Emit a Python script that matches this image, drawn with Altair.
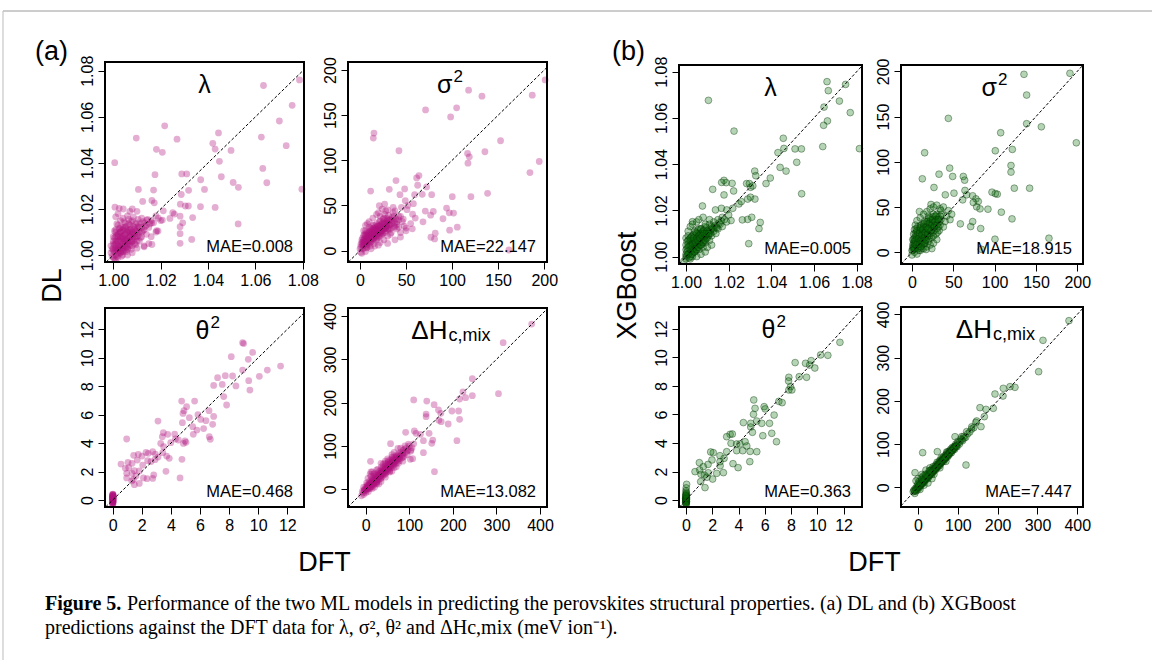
import altair as alt
import pandas as pd

W, H = 1152, 660
FONT = "Liberation Sans"
SERIF = "Liberation Serif"

# ---------------- data: (DFT, predicted) ----------------
DL_LAMBDA = [
    (1.0634, 1.0736), (1.0786, 1.0760), (1.0755, 1.0650), (1.0701, 1.0582), (1.0625, 1.0512),
    (1.0730, 1.0475), (1.0631, 1.0376), (1.0648, 1.0314), (1.0796, 1.0286), (1.0217, 1.0561),
    (1.0097, 1.0508), (1.0269, 1.0503), (1.0444, 1.0530), (1.0420, 1.0485), (1.0430, 1.0460),
    (1.0497, 1.0454), (1.0182, 1.0459), (1.0207, 1.0446), (1.0006, 1.0401), (1.0448, 1.0407),
    (1.0456, 1.0340), (1.0176, 1.0349), (1.0289, 1.0352), (1.0310, 1.0352), (1.0369, 1.0327),
    (1.0506, 1.0315), (1.0528, 1.0294), (1.0106, 1.0285), (1.0170, 1.0282), (1.0318, 1.0281),
    (1.0385, 1.0285), (1.0287, 1.0263), (1.0124, 1.0233), (1.0163, 1.0237), (1.0173, 1.0227),
    (1.0283, 1.0221), (1.0304, 1.0213), (1.0317, 1.0213), (1.0368, 1.0210), (1.0430, 1.0207),
    (1.0007, 1.0208), (1.0025, 1.0203), (1.0042, 1.0200), (1.0010, 1.0166), (1.0211, 1.0192),
    (1.0251, 1.0184), (1.0282, 1.0169), (1.0335, 1.0163), (1.0258, 1.0178), (1.0527, 1.0135),
    (1.0282, 1.0123), (1.0293, 1.0140), (1.0189, 1.0104), (1.0282, 1.0093), (1.0331, 1.0068),
    (1.0282, 1.0051), (1.0130, 1.0036), (1.0163, 1.0046), (1.0141, 1.0152), (1.0162, 1.0140),
    (1.0183, 1.0106), (1.0207, 1.0152), (1.0239, 1.0159),
    (1.000, 0.999), (1.000, 1.002), (1.000, 1.005), (1.000, 1.008), (1.001, 1.000),
    (1.001, 1.003), (1.001, 1.006), (1.001, 1.011), (1.002, 0.999), (1.002, 1.002),
    (1.002, 1.004), (1.002, 1.008), (1.002, 1.013), (1.003, 1.001), (1.003, 1.003),
    (1.003, 1.006), (1.003, 1.010), (1.003, 1.015), (1.004, 1.000), (1.004, 1.004),
    (1.004, 1.007), (1.004, 1.012), (1.005, 1.002), (1.005, 1.005), (1.005, 1.009),
    (1.005, 1.014), (1.006, 1.003), (1.006, 1.006), (1.006, 1.011), (1.006, 1.017),
    (1.007, 1.004), (1.007, 1.008), (1.007, 1.013), (1.008, 1.006), (1.008, 1.010),
    (1.008, 1.015), (1.009, 1.005), (1.009, 1.009), (1.009, 1.012), (1.010, 1.008),
    (1.010, 1.011), (1.010, 1.014), (1.011, 1.006), (1.011, 1.010), (1.012, 1.012),
    (1.012, 1.008), (1.013, 1.011), (1.013, 1.014), (1.014, 1.009), (1.014, 1.013),
    (1.015, 1.012), (1.016, 1.015), (1.004, 1.016), (1.002, 1.018), (1.007, 1.019),
    (1.008, 1.020), (1.010, 1.019), (1.012, 1.016), (1.017, 1.014), (1.018, 1.017),
    (1.019, 1.016), (1.020, 1.015), (1.018, 1.010), (1.016, 1.008), (1.015, 1.005),
    (1.013, 1.004), (1.010, 1.003), (1.008, 1.001), (1.006, 1.000), (0.999, 1.001),
    (0.999, 1.004), (1.001, 0.998), (1.003, 1.008), (1.005, 1.007), (1.007, 1.010),
]
DL_LAMBDA_CORE = [
    (1.0005, 1.0015), (1.0015, 1.0025), (1.0025, 1.0035), (1.0035, 1.0045), (1.0045, 1.0055),
    (1.0055, 1.0065), (1.0065, 1.0075), (1.0075, 1.0085), (1.0085, 1.0095), (1.0095, 1.0105),
    (1.0005, 1.0045), (1.0015, 1.0055), (1.0025, 1.0065), (1.0035, 1.0075), (1.0045, 1.0085),
    (1.0055, 1.0095), (1.0065, 1.0105), (1.0075, 1.0115), (1.0085, 1.0125), (1.0095, 1.0135),
    (1.0015, 0.9995), (1.0025, 1.0005), (1.0035, 1.0015), (1.0045, 1.0025), (1.0055, 1.0035),
    (1.0065, 1.0045), (1.0075, 1.0055), (1.0085, 1.0065), (1.0095, 1.0075), (1.0105, 1.0085),
    (1.0005, 1.0075), (1.0015, 1.0085), (1.0025, 1.0095), (1.0035, 1.0105), (1.0045, 1.0115),
    (1.0055, 1.0125), (1.0065, 1.0135), (1.0075, 1.0145), (1.0105, 1.0125), (1.0115, 1.0135),
    (1.0125, 1.0105), (1.0135, 1.0125), (1.0025, 1.0115), (1.0005, 1.0105), (1.0015, 1.0135),
    (1.0045, 1.0145), (1.0065, 1.0155), (1.0085, 1.0165), (1.0105, 1.0155), (1.0125, 1.0145),
    (1.0145, 1.0155), (1.0155, 1.0135), (1.0115, 1.0075), (1.0095, 1.0045), (1.0075, 1.0025),
    (1.0055, 1.0015), (1.0035, 0.9995), (1.0005, 0.9985), (0.9995, 0.9995), (0.9995, 1.0025),
    (1.0010, 1.0020), (1.0020, 1.0030), (1.0030, 1.0040), (1.0040, 1.0050), (1.0050, 1.0060),
    (1.0060, 1.0070), (1.0070, 1.0080), (1.0080, 1.0090), (1.0010, 1.0050), (1.0020, 1.0060),
    (1.0030, 1.0070), (1.0040, 1.0080), (1.0050, 1.0090), (1.0060, 1.0100), (1.0070, 1.0110),
    (1.0020, 1.0010), (1.0030, 1.0020), (1.0040, 1.0030), (1.0050, 1.0040), (1.0060, 1.0050),
    (1.0070, 1.0060), (1.0080, 1.0070), (1.0090, 1.0080), (1.0010, 1.0080), (1.0020, 1.0090),
    (1.0030, 1.0100), (1.0040, 1.0110), (1.0050, 1.0120), (1.0000, 1.0030), (1.0000, 1.0060),
    (1.0010, 1.0100), (1.0030, 1.0120), (1.0100, 1.0100), (1.0110, 1.0120), (1.0090, 1.0110),
    (1.0120, 1.0100), (1.0040, 1.0015), (1.0060, 1.0025), (1.0080, 1.0040), (1.0100, 1.0060),
]

DL_SIGMA = [
    (201.0, 189.0), (117.9, 177.7), (132.4, 171.1), (187.0, 172.2), (71.2, 155.8),
    (104.9, 158.1), (98.4, 148.1), (15.2, 130.2), (14.5, 124.7), (42.3, 110.6),
    (152.6, 121.7), (116.8, 107.6), (118.7, 103.9), (117.2, 96.8), (135.6, 109.5),
    (184.5, 86.5), (194.6, 98.7), (61.5, 80.5), (64.0, 83.1), (62.6, 72.4),
    (39.1, 77.6), (11.6, 66.0), (31.8, 67.9), (43.4, 62.0), (48.5, 68.3),
    (59.3, 62.0), (67.6, 62.3), (72.3, 70.5), (77.8, 62.0), (100.2, 59.7),
    (120.4, 59.7), (138.5, 63.5), (21.0, 49.7), (26.8, 51.6), (49.2, 55.3),
    (51.0, 45.3), (57.1, 40.4), (70.9, 43.8), (76.7, 39.3), (79.6, 43.4),
    (90.1, 35.3), (94.0, 47.1), (96.9, 41.9), (101.6, 41.6), (56.8, 24.1),
    (81.7, 19.3), (77.0, 14.8), (81.0, 13.0), (68.4, 31.9), (97.3, 22.6),
    (105.6, 26.0), (161.7, 0.7), (45, 48), (52, 50), (58, 52), (47, 35), (55, 30),
    (60, 36), (42, 26), (50, 22), (36, 48), (30, 45), (33, 18), (38, 12), (44, 15),
    (2, -3), (3, 2), (4, 6), (5, 10), (3, 14), (5, 18), (6, 22), (7, 3), (8, 8),
    (8, 13), (9, 17), (10, 21), (10, 26), (11, 5), (12, 10), (12, 15), (13, 19),
    (13, 24), (14, 28), (15, 8), (15, 12), (16, 17), (17, 21), (17, 26), (18, 30),
    (19, 14), (20, 19), (20, 23), (21, 28), (22, 33), (23, 17), (24, 22), (25, 26),
    (25, 31), (26, 36), (27, 20), (28, 25), (29, 30), (30, 34), (31, 39), (32, 23),
    (33, 28), (34, 33), (35, 37), (36, 42), (37, 27), (38, 31), (39, 35), (40, 29),
    (42, 34), (44, 38), (46, 32), (48, 27), (18, 40), (20, 42), (22, 38), (27, 40),
    (14, 36), (10, 32), (6, 28), (8, 30), (4, 22), (2, 12), (1, 7), (0, 2), (1, -2),
    (6, -1), (12, 2), (16, 5), (22, 9), (26, 12), (30, 16), (34, 20), (40, 24),
    (44, 20), (50, 25), (30, 8), (20, 6), (38, 44), (28, 44), (24, 46),
]
DL_SIGMA_CORE = [
    (1, 4), (2, 9), (3, 5), (4, 12), (5, 7), (6, 15), (7, 10), (8, 19), (9, 12), (10, 16),
    (11, 22), (12, 18), (13, 13), (14, 21), (15, 25), (16, 20), (17, 15), (18, 24), (19, 27),
    (20, 21), (21, 16), (22, 25), (23, 29), (24, 19), (25, 24), (26, 30), (27, 33), (28, 22),
    (29, 27), (30, 31), (31, 24), (32, 29), (33, 35), (34, 25), (35, 30), (36, 34), (37, 38),
    (38, 26), (40, 32), (42, 38), (3, 9), (4, 17), (6, 11), (7, 20), (9, 7), (10, 13),
    (11, 18), (12, 25), (14, 16), (15, 19), (16, 28), (18, 12), (19, 22), (21, 32), (23, 21),
    (25, 35), (27, 25), (29, 36), (7, 14), (5, 3),
    (3, 7), (4, 10), (5, 13), (6, 17), (7, 6), (8, 11), (9, 15), (10, 19), (11, 9), (12, 13),
    (13, 17), (14, 22), (15, 14), (16, 18), (17, 23), (18, 19), (19, 24), (20, 16), (21, 21),
    (22, 27), (23, 22), (24, 26), (25, 19), (26, 24), (27, 29), (28, 27), (29, 32), (30, 24),
    (31, 29), (32, 34), (6, 9), (8, 4), (10, 10), (12, 21), (14, 13), (16, 24), (18, 16),
    (20, 27), (22, 19), (24, 30),
]

DL_THETA = [
    (8.93, 11.06), (9.00, 11.00), (8.15, 10.08), (9.62, 10.38), (9.32, 9.89),
    (10.63, 9.14), (11.54, 9.42), (8.93, 9.14), (10.08, 8.70), (9.35, 8.39),
    (8.24, 8.72), (7.74, 8.74), (7.21, 8.60), (7.53, 8.13), (6.94, 8.06),
    (8.47, 8.02), (9.43, 7.73), (7.63, 7.27), (7.83, 6.68), (4.74, 6.96),
    (5.63, 6.96), (4.90, 6.28), (4.83, 6.09), (5.08, 6.56), (6.62, 6.28),
    (5.86, 6.00), (6.05, 5.67), (3.11, 5.55), (5.27, 5.79), (5.50, 5.16),
    (4.79, 5.44), (6.41, 5.58), (6.87, 5.32), (6.94, 5.88), (6.25, 5.02),
    (5.79, 4.92), (5.54, 4.62), (6.64, 4.45), (6.71, 4.27), (3.48, 4.73),
    (3.41, 4.45), (3.78, 4.62), (4.26, 4.64), (3.99, 4.03), (4.31, 4.29),
    (4.51, 4.22), (4.97, 4.15), (4.86, 3.98), (5.04, 4.06), (0.96, 4.29),
    (3.30, 3.98), (3.50, 3.75), (3.44, 3.33), (3.71, 3.09), (2.75, 3.40),
    (2.29, 3.35), (2.45, 3.28), (2.02, 3.09), (1.76, 3.21), (1.44, 3.14),
    (2.93, 3.23), (3.12, 3.02), (2.91, 2.84), (2.63, 2.70), (2.40, 2.77),
    (2.06, 2.46), (1.69, 2.81), (1.33, 2.58), (1.05, 2.65), (0.57, 2.53),
    (0.87, 2.23), (1.10, 2.27), (1.49, 2.06), (1.83, 2.04), (0.96, 1.88),
    (1.33, 1.88), (1.60, 1.69), (0.96, 1.55), (1.42, 1.45), (1.83, 1.17),
    (1.49, 1.08), (1.31, 1.34), (2.11, 1.55), (2.75, 1.52), (2.82, 1.76),
    (3.66, 2.02), (3.89, 2.93), (4.63, 1.55), (4.76, 2.86), (2.36, 1.50),
]
DL_THETA_ZERO = [
    (0.00, -0.28), (0.00, -0.20), (0.01, -0.14), (0.00, -0.08), (0.02, -0.02),
    (0.00, 0.03), (0.01, 0.08), (0.00, 0.12), (0.02, 0.16), (0.01, 0.20),
    (0.00, 0.24), (0.02, 0.28), (0.01, 0.32), (0.00, 0.35), (0.03, 0.05),
    (0.03, 0.18), (0.02, -0.10), (0.01, 0.00), (0.00, 0.10), (0.02, 0.22),
    (-0.02, -0.24), (-0.01, -0.12), (-0.02, 0.02), (-0.01, 0.14), (-0.02, 0.26),
    (0.04, -0.18), (0.04, -0.06), (0.04, 0.10), (0.04, 0.26), (0.00, 0.40),
    (0.01, -0.30), (0.03, 0.34), (-0.01, 0.38), (0.02, 0.42), (0.00, 0.18),
]

DL_DH = [
    (380.8, 381.5), (315.4, 338.5), (304.6, 220.8), (244.6, 255.4), (223.1, 224.6),
    (244.6, 216.2), (229.2, 211.5), (215.4, 208.5), (197.7, 180.8), (213.1, 180.8),
    (215.4, 161.5), (189.2, 150.8), (209.2, 112.3), (110.0, 206.2), (140.0, 203.8),
    (156.9, 195.4), (138.5, 173.8), (138.5, 167.7), (166.9, 183.1), (172.3, 175.4),
    (167.7, 159.2), (173.1, 156.2), (91.5, 131.5), (111.5, 134.6), (115.4, 129.2),
    (125.4, 126.9), (145.4, 129.2), (132.3, 112.3), (151.5, 106.2), (153.8, 113.8),
    (132.3, 84.6), (157.7, 40.8), (56.9, 105.4), (73.8, 94.6), (103.8, 90.8),
    (107.7, 70.8), (102.3, 69.2), (10.8, 64.6),
    (-10, -15), (-8, -5), (-5, -12), (-3, 0), (0, -8), (0, 5), (2, -2), (3, 10),
    (5, 3), (6, -5), (8, 8), (8, 18), (10, 2), (11, 12), (12, 22), (14, 6),
    (15, 15), (16, 25), (18, 10), (19, 20), (20, 30), (22, 14), (23, 24), (24, 33),
    (26, 18), (27, 28), (28, 38), (30, 22), (31, 32), (32, 42), (34, 26), (35, 36),
    (36, 45), (38, 30), (39, 40), (40, 50), (42, 34), (43, 44), (44, 54), (46, 38),
    (47, 48), (48, 58), (50, 42), (51, 52), (52, 62), (54, 46), (55, 56), (56, 66),
    (58, 50), (59, 60), (60, 70), (62, 54), (64, 64), (65, 75), (67, 58), (68, 68),
    (70, 78), (72, 62), (73, 72), (75, 82), (77, 66), (78, 76), (80, 86), (82, 72),
    (84, 80), (86, 90), (88, 76), (90, 84), (92, 95), (95, 80), (97, 90), (100, 100),
    (103, 88), (106, 96), (110, 105), (5, 25), (10, 35), (15, 40), (25, 12), (35, 18),
    (45, 28), (55, 40), (60, 42), (70, 52), (75, 60), (85, 65), (20, 5), (30, 12),
    (40, 58), (50, 70), (60, 80), (80, 95), (90, 100), (2, 15), (-5, 5), (12, 40),
    (35, 60), (45, 65), (65, 85), (25, 45), (18, 35),
]
DL_DH_CORE = [
    (-6, -8), (-2, -4), (2, 2), (4, 6), (6, 10), (9, 4), (10, 14), (13, 10), (14, 18),
    (17, 14), (18, 22), (21, 18), (22, 26), (25, 22), (26, 30), (29, 26), (30, 34),
    (33, 30), (34, 38), (37, 34), (38, 42), (41, 38), (42, 46), (45, 42), (46, 50),
    (49, 46), (50, 54), (53, 50), (54, 58), (57, 54), (58, 62), (61, 58), (62, 66),
    (65, 62), (66, 70), (69, 66), (70, 74), (73, 70), (74, 78), (78, 72), (80, 80),
    (85, 84), (88, 92), (94, 88), (98, 104), (12, 30), (20, 36), (28, 46), (36, 52),
    (44, 60), (52, 66), (60, 74), (15, 2), (25, 15), (35, 25), (45, 35), (55, 42),
    (65, 50), (75, 70), (85, 74),
    (0, 0), (4, 2), (7, 9), (10, 6), (13, 13), (16, 12), (19, 17), (22, 20), (25, 25),
    (28, 24), (31, 29), (34, 32), (37, 38), (40, 36), (43, 41), (46, 44), (49, 49),
    (52, 48), (55, 53), (58, 57), (61, 62), (64, 58), (67, 65), (70, 66), (3, 6),
    (9, 12), (15, 19), (21, 24), (27, 31), (33, 36), (39, 43), (45, 48), (51, 56),
    (57, 60), (63, 68), (-4, -2), (6, 1), (12, 7), (18, 13), (24, 18),
]

XGB_LAMBDA = [
    (1.0661, 1.0757), (1.0748, 1.0745), (1.0667, 1.0718), (1.0105, 1.0676), (1.0719, 1.0673),
    (1.0770, 1.0623), (1.0647, 1.0647), (1.0663, 1.0587), (1.0645, 1.0568), (1.0225, 1.0543),
    (1.0456, 1.0512), (1.0431, 1.0450), (1.0459, 1.0468), (1.0511, 1.0466), (1.0541, 1.0466),
    (1.0641, 1.0476), (1.0813, 1.0467), (1.0519, 1.0408), (1.0441, 1.0386), (1.0469, 1.0370),
    (1.0542, 1.0272), (1.0395, 1.0340), (1.0375, 1.0316), (1.0322, 1.0370), (1.0327, 1.0350),
    (1.0284, 1.0316), (1.0297, 1.0316), (1.0303, 1.0300), (1.0313, 1.0306), (1.0302, 1.0257),
    (1.0323, 1.0249), (1.0289, 1.0249), (1.0216, 1.0317), (1.0223, 1.0284), (1.0178, 1.0330),
    (1.0188, 1.0320), (1.0167, 1.0321), (1.0178, 1.0267), (1.0125, 1.0291), (1.0138, 1.0202),
    (1.0166, 1.0209), (1.0191, 1.0202), (1.0219, 1.0209), (1.0248, 1.0228), (1.0259, 1.0238),
    (1.0077, 1.0219), (1.0264, 1.0159), (1.0289, 1.0161), (1.0308, 1.0170), (1.0348, 1.0148),
    (1.0342, 1.0121), (1.0294, 1.0056), (1.0211, 1.0156), (1.0030, 1.0151),
    (0.999, 0.998), (1.000, 1.000), (1.000, 1.003), (1.001, 1.001), (1.001, 1.005),
    (1.002, 1.002), (1.002, 1.007), (1.003, 1.000), (1.003, 1.004), (1.003, 1.009),
    (1.004, 1.002), (1.004, 1.006), (1.004, 1.011), (1.005, 1.004), (1.005, 1.008),
    (1.006, 1.003), (1.006, 1.006), (1.006, 1.010), (1.007, 1.005), (1.007, 1.008),
    (1.007, 1.012), (1.008, 1.004), (1.008, 1.007), (1.008, 1.010), (1.009, 1.006),
    (1.009, 1.009), (1.009, 1.013), (1.010, 1.008), (1.010, 1.011), (1.011, 1.007),
    (1.011, 1.010), (1.011, 1.014), (1.012, 1.009), (1.012, 1.012), (1.013, 1.011),
    (1.013, 1.015), (1.014, 1.010), (1.014, 1.013), (1.015, 1.012), (1.015, 1.016),
    (1.016, 1.014), (1.017, 1.013), (1.017, 1.017), (1.018, 1.016), (1.019, 1.015),
    (1.020, 1.018), (1.000, 1.008), (1.001, 1.011), (1.002, 1.013), (1.003, 1.014),
    (1.005, 1.015), (1.006, 1.016), (1.008, 1.017), (1.001, 1.009), (1.002, 0.999),
    (1.005, 1.000), (1.007, 1.001), (1.009, 1.002), (1.010, 1.004), (1.012, 1.005),
    (1.000, 0.999), (1.004, 1.009), (1.006, 1.012),
]
XGB_LAMBDA_CORE = [
    (1.0005, 1.0005), (1.0015, 1.0015), (1.0025, 1.0025), (1.0035, 1.0035), (1.0045, 1.0045),
    (1.0055, 1.0055), (1.0065, 1.0065), (1.0075, 1.0075), (1.0085, 1.0085), (1.0095, 1.0095),
    (1.0105, 1.0105), (1.0115, 1.0115), (1.0125, 1.0125), (1.0135, 1.0135), (1.0005, 1.0035),
    (1.0015, 1.0045), (1.0025, 1.0055), (1.0035, 1.0065), (1.0045, 1.0075), (1.0055, 1.0085),
    (1.0065, 1.0095), (1.0075, 1.0105), (1.0085, 1.0115), (1.0095, 1.0125), (1.0015, 0.9995),
    (1.0025, 1.0010), (1.0035, 1.0020), (1.0045, 1.0030), (1.0055, 1.0040), (1.0065, 1.0050),
    (1.0075, 1.0060), (1.0085, 1.0070), (1.0095, 1.0080), (1.0105, 1.0090), (1.0115, 1.0100),
    (1.0005, 1.0065), (1.0015, 1.0075), (1.0025, 1.0085), (1.0035, 1.0095), (1.0045, 1.0105),
    (1.0055, 1.0115), (1.0145, 1.0125), (1.0155, 1.0145), (1.0165, 1.0155), (1.0005, 1.0020),
    (1.0030, 1.0070), (1.0050, 1.0100), (1.0070, 1.0120), (1.0090, 1.0140), (1.0110, 1.0160),
    (1.0010, 1.0010), (1.0020, 1.0030), (1.0030, 1.0030), (1.0040, 1.0050), (1.0050, 1.0050),
    (1.0060, 1.0070), (1.0070, 1.0070), (1.0080, 1.0090), (1.0090, 1.0090), (1.0100, 1.0110),
    (1.0010, 1.0040), (1.0020, 1.0050), (1.0030, 1.0060), (1.0040, 1.0070), (1.0050, 1.0080),
    (1.0060, 1.0090), (1.0070, 1.0100), (1.0080, 1.0110), (1.0020, 1.0000), (1.0030, 1.0010),
    (1.0040, 1.0020), (1.0050, 1.0030), (1.0060, 1.0040), (1.0070, 1.0050), (1.0080, 1.0060),
    (1.0090, 1.0070), (1.0000, 1.0010), (1.0000, 1.0050), (1.0010, 1.0070), (1.0020, 1.0080),
    (1.0035, 1.0080), (1.0045, 1.0060), (1.0055, 1.0070), (1.0065, 1.0080), (1.0075, 1.0090),
    (1.0085, 1.0100), (1.0095, 1.0100), (1.0105, 1.0100), (1.0120, 1.0130), (1.0130, 1.0120),
]

XGB_SIGMA = [
    (191.1, 197.8), (135.5, 196.7), (138.7, 173.8), (138.7, 142.1), (156.5, 138.7),
    (44.0, 148.0), (107.3, 132.1), (198.8, 121.0), (15.3, 110.0), (100.8, 112.2),
    (121.4, 113.7), (119.8, 95.9), (119.8, 88.6), (45.6, 93.0), (32.7, 86.3),
    (12.5, 81.2), (49.2, 83.8), (62.1, 83.8), (63.7, 79.7), (96.8, 66.4),
    (103.2, 64.2), (100.8, 64.8), (123.8, 70.8), (142.3, 70.8), (26.6, 71.6),
    (40.3, 63.5), (50.8, 65.3), (64.1, 68.3), (66.1, 63.5), (61.3, 57.9),
    (73.4, 62.4), (77.4, 59.0), (80.2, 56.1), (74.2, 55.0), (78.2, 50.2),
    (82.3, 48.0), (91.9, 47.6), (108.1, 44.3), (121.0, 36.9), (58.5, 31.4),
    (71.0, 28.4), (83.1, 26.2), (73.4, 33.9), (100.4, 14.4), (165.7, 15.5),
    (83.9, 3.3), (23.0, 52.8),
    (0, 2), (1, 8), (2, 14), (2, 20), (3, 25), (4, 4), (5, 10), (5, 16), (6, 22),
    (7, 28), (8, 6), (8, 12), (9, 18), (10, 24), (11, 30), (12, 8), (12, 14),
    (13, 20), (14, 26), (15, 32), (16, 10), (16, 16), (17, 22), (18, 28), (19, 34),
    (20, 12), (21, 18), (21, 24), (22, 30), (23, 36), (24, 16), (25, 22), (26, 28),
    (27, 34), (28, 40), (29, 20), (30, 26), (31, 32), (32, 38), (33, 24), (34, 30),
    (35, 36), (36, 42), (38, 28), (40, 34), (42, 40), (44, 46), (46, 36), (48, 42),
    (3, 0), (6, -2), (10, 2), (14, 4), (18, 6), (22, 8), (26, 10), (30, 14), (0, -3),
    (4, 30), (6, 35), (10, 38), (14, 42), (18, 45), (22, 48), (26, 50), (30, 52),
    (34, 48), (38, 50), (20, 40), (9, 45), (17, 3), (24, 4), (5, 5), (1, 14),
]
XGB_SIGMA_CORE = [
    (1, 5), (2, 10), (3, 16), (4, 21), (5, 26), (6, 8), (7, 13), (8, 18), (9, 24), (10, 29),
    (11, 10), (12, 16), (13, 22), (14, 28), (15, 34), (16, 13), (17, 19), (18, 25), (19, 31),
    (20, 37), (21, 15), (22, 21), (23, 27), (24, 33), (25, 39), (26, 18), (27, 24), (28, 30),
    (29, 36), (30, 42), (31, 22), (32, 28), (33, 34), (34, 40), (35, 46), (2, 4), (4, 9),
    (6, 15), (8, 2), (10, 6), (12, 4), (14, 9), (3, 12), (7, 20), (11, 26), (15, 20),
    (19, 18), (23, 24), (27, 30), (31, 36),
    (2, 6), (3, 9), (4, 13), (5, 18), (6, 24), (7, 10), (8, 15), (9, 21), (10, 27),
    (11, 13), (12, 19), (13, 25), (14, 31), (15, 16), (16, 22), (17, 28), (18, 34),
    (19, 20), (20, 26), (21, 32), (22, 38), (23, 24), (24, 30), (25, 36), (26, 42),
    (27, 28), (28, 34), (29, 40), (30, 30), (32, 36), (1, 2), (3, 4), (5, 8), (7, 4),
    (9, 9), (11, 6), (13, 12), (15, 10), (17, 14), (19, 26),
]

XGB_THETA = [
    (11.72, 11.06), (10.80, 10.15), (10.25, 10.18), (9.53, 9.78), (9.10, 9.59),
    (9.41, 9.47), (9.81, 9.26), (9.18, 8.61), (8.31, 9.64), (7.83, 8.61),
    (7.81, 8.35), (7.96, 7.95), (8.06, 7.72), (7.83, 7.72), (8.62, 8.65),
    (7.07, 6.92), (7.32, 6.83), (5.16, 7.02), (5.26, 6.43), (5.14, 6.01),
    (5.95, 6.55), (6.03, 6.39), (6.71, 5.96), (6.36, 5.38), (5.77, 5.38),
    (5.39, 5.54), (6.53, 4.68), (6.89, 4.09), (5.85, 4.51), (4.37, 5.43),
    (4.93, 5.38), (4.93, 5.12), (5.06, 4.75), (3.36, 4.61), (3.10, 4.44),
    (3.53, 4.63), (3.43, 3.98), (3.86, 3.93), (4.11, 3.93), (4.50, 4.09),
    (4.63, 3.79), (3.86, 3.46), (4.32, 3.46), (4.88, 3.41), (5.39, 3.39),
    (3.58, 2.55), (3.97, 2.27), (4.86, 2.69), (3.10, 3.39), (2.59, 3.11),
    (2.90, 2.92), (2.59, 2.69), (2.08, 3.32), (1.88, 3.37), (1.98, 2.81),
    (1.68, 2.50), (1.32, 2.34), (1.02, 2.62), (1.04, 2.11), (0.69, 1.99),
    (1.40, 1.75), (1.70, 1.91), (2.03, 1.47), (2.34, 1.87), (2.85, 1.92),
    (1.12, 1.29), (1.45, 0.87), (1.15, 1.80), (1.60, 1.60), (2.60, 2.40),
]
XGB_THETA_ZERO = [
    (0.05, 1.10), (0.02, 0.85), (0.00, 0.65), (0.03, 0.45), (0.00, 0.35),
    (0.01, 0.28), (0.02, 0.20), (0.00, 0.14), (0.03, 0.08), (0.01, 0.02),
    (0.00, -0.04), (0.02, -0.10), (0.01, -0.16), (0.00, -0.22), (0.03, -0.28),
    (0.02, 0.12), (0.00, 0.05), (0.01, -0.08), (0.03, 0.22), (0.00, 0.00),
    (-0.02, -0.18), (-0.01, -0.02), (-0.02, 0.10), (0.04, -0.12), (0.04, 0.02),
    (0.04, 0.16), (0.01, 0.40), (0.02, 0.55), (-0.01, 0.30), (0.00, -0.30),
]

XGB_DH = [
    (379.1, 385.4), (313.8, 339.9), (302.9, 267.4), (243.5, 231.2), (231.0, 232.8),
    (214.2, 228.9), (213.4, 211.2), (193.3, 215.8), (189.1, 182.7), (170.7, 180.3),
    (155.6, 184.2), (166.5, 163.4), (147.3, 153.4), (158.2, 140.3), (134.7, 134.9),
    (122.2, 128.7), (109.6, 117.1), (120.5, 51.6), (92.9, 117.1), (92.9, 94.0),
    (72.0, 81.7), (11.7, 80.2), (48.5, 82.5), (-7.5, 33.9),
    (-12, -10), (-8, -14), (-6, -2), (-4, -8), (-2, 4), (0, -4), (2, 6), (4, 0),
    (5, 12), (7, 4), (9, 14), (10, 8), (12, 18), (14, 10), (15, 22), (17, 14),
    (19, 24), (20, 18), (22, 28), (24, 20), (25, 32), (27, 24), (29, 34), (30, 28),
    (32, 38), (34, 30), (35, 42), (37, 34), (39, 44), (40, 38), (42, 48), (44, 40),
    (45, 52), (47, 44), (49, 54), (50, 48), (52, 58), (54, 50), (55, 62), (57, 54),
    (59, 64), (60, 58), (62, 68), (64, 60), (65, 72), (67, 64), (69, 74), (70, 68),
    (72, 78), (74, 70), (75, 82), (77, 74), (79, 84), (80, 78), (82, 88), (84, 80),
    (86, 92), (88, 86), (90, 94), (92, 88), (95, 100), (98, 94), (100, 106),
    (104, 100), (108, 112), (112, 108), (115, 118), (120, 116), (125, 124),
    (130, 128), (135, 140), (140, 138), (145, 150), (10, 30), (20, 40), (0, 20),
    (-5, 15), (30, 45), (15, 5), (25, 10), (40, 30), (55, 45), (70, 60), (35, 20), (5, -5),
]
XGB_DH_CORE = [
    (-10, -6), (-7, -9), (-3, -3), (1, 1), (3, 3), (6, 6), (8, 10), (11, 11), (13, 15),
    (16, 16), (18, 20), (21, 21), (23, 25), (26, 26), (28, 30), (31, 31), (33, 35),
    (36, 36), (38, 40), (41, 41), (43, 45), (46, 46), (48, 50), (51, 51), (53, 55),
    (56, 56), (58, 60), (61, 61), (63, 65), (66, 66), (68, 70), (71, 71), (73, 75),
    (76, 76), (78, 80), (81, 81), (83, 85), (86, 86), (88, 90), (91, 91), (94, 96),
    (97, 97), (101, 103), (105, 105), (110, 110), (116, 114), (8, 22), (18, 30),
    (28, 38), (38, 48), (48, 58), (58, 68), (3, 14), (13, 26),
    (-9, -8), (-5, -5), (-1, 0), (2, 3), (5, 5), (7, 8), (10, 10), (12, 13), (15, 15),
    (17, 18), (20, 20), (22, 23), (25, 25), (27, 28), (30, 30), (32, 33), (35, 35),
    (37, 38), (40, 40), (42, 43), (45, 45), (47, 48), (50, 50), (52, 53), (55, 55),
    (57, 58), (60, 60), (62, 63), (65, 65), (67, 68), (70, 70), (75, 75), (80, 80),
    (85, 85), (90, 90), (96, 95), (0, 8), (10, 18), (20, 28), (30, 38),
]

PANEL_TITLES = [("λ", ""), ("σ", "2"), ("θ", "2"), ("ΔH", "c,mix")]
TICKS = {
    "lambda": [1.00, 1.02, 1.04, 1.06, 1.08],
    "sigma": [0, 50, 100, 150, 200],
    "theta": [0, 2, 4, 6, 8, 10, 12],
    "dh": [0, 100, 200, 300, 400],
}
MAE_DL = ["MAE=0.008", "MAE=22.147", "MAE=0.468", "MAE=13.082"]
MAE_XGB = ["MAE=0.005", "MAE=18.915", "MAE=0.363", "MAE=7.447"]
CAPTION_BOLD = "Figure 5."
CAPTION_1 = ("Performance of the two ML models in predicting the perovskites structural "
             "properties. (a) DL and (b) XGBoost")
CAPTION_2 = "predictions against the DFT data for λ, σ², θ² and ΔHc,mix (meV ion⁻¹)."

# ---------------- panel geometry (pixel boxes) and axis limits ----------------
PANELS = [
    dict(pts=DL_LAMBDA + DL_LAMBDA_CORE, xd=[0.9965, 1.0805], yd=[0.997, 1.0838],
         xp=[105, 304], yp=[62, 262], ticks="lambda", fmt=".2f", title=0, mae=MAE_DL[0],
         model="dl", ytitle=("DL", 52)),
    dict(pts=DL_SIGMA + DL_SIGMA_CORE, xd=[-13, 203], yd=[-12.6, 208.9],
         xp=[348, 547], yp=[62, 262], ticks="sigma", fmt="d", title=1, mae=MAE_DL[1],
         model="dl"),
    dict(pts=DL_THETA + DL_THETA_ZERO, xd=[-0.53, 13.15], yd=[-0.49, 13.5],
         xp=[105, 304], yp=[308, 507], ticks="theta", fmt="d", title=2, mae=MAE_DL[2],
         model="dl", xtitle=("DFT", 324)),
    dict(pts=DL_DH + DL_DH_CORE, xd=[-40.8, 416], yd=[-40.8, 418.5],
         xp=[348, 547], yp=[308, 507], ticks="dh", fmt="d", title=3, mae=MAE_DL[3],
         model="dl"),
    dict(pts=XGB_LAMBDA + XGB_LAMBDA_CORE, xd=[0.9967, 1.0825], yd=[0.9968, 1.0829],
         xp=[679, 862], yp=[65, 264], ticks="lambda", fmt=".2f", title=0, mae=MAE_XGB[0],
         model="xgb", ytitle=("XGBoost", 627)),
    dict(pts=XGB_SIGMA + XGB_SIGMA_CORE, xd=[-13.3, 206.9], yd=[-13, 207],
         xp=[901, 1083], yp=[65, 264], ticks="sigma", fmt="d", title=1, mae=MAE_XGB[1],
         model="xgb"),
    dict(pts=XGB_THETA + XGB_THETA_ZERO, xd=[-0.53, 13.4], yd=[-0.49, 13.54],
         xp=[679, 862], yp=[307, 507], ticks="theta", fmt="d", title=2, mae=MAE_XGB[2],
         model="xgb", xtitle=("DFT", 874)),
    dict(pts=XGB_DH + XGB_DH_CORE, xd=[-42.7, 414.3], yd=[-45.5, 417],
         xp=[901, 1083], yp=[307, 507], ticks="dh", fmt="d", title=3, mae=MAE_XGB[3],
         model="xgb"),
]

AXIS_STYLE = dict(grid=False, domain=False, ticks=True, tickSize=7, tickColor="black",
                  tickWidth=1, labelFont=FONT, labelFontSize=16, labelColor="black",
                  labelFlush=False, labelOverlap=False, titleFont=FONT, titleFontSize=27,
                  titleFontWeight="normal", titleColor="black")


def text_layer(label, x, y, size, align="center", font=FONT, weight="normal",
               baseline="alphabetic", color="black"):
    return alt.Chart(pd.DataFrame({"t": [label]})).mark_text(
        font=font, fontSize=size, align=align, baseline=baseline, fontWeight=weight,
        color=color).encode(x=alt.value(x), y=alt.value(y), text="t:N")


def make_panel(p):
    df = pd.DataFrame(p["pts"], columns=["dft", "pred"])

    def sx():
        return alt.Scale(domain=p["xd"], range=p["xp"], nice=False, zero=False)

    def sy():
        return alt.Scale(domain=p["yd"], range=[p["yp"][1], p["yp"][0]], nice=False, zero=False)

    ticks = TICKS[p["ticks"]]
    xa = dict(AXIS_STYLE, orient="bottom", offset=p["yp"][1] - H, values=ticks,
              format=p["fmt"], labelPadding=3)
    if "xtitle" in p:
        xa.update(title=p["xtitle"][0], titleX=p["xtitle"][1], titleY=55,
                  titleAlign="center", titleBaseline="middle")
    else:
        xa.update(title="")
    ya = dict(AXIS_STYLE, orient="left", offset=-p["xp"][0], values=ticks, format=p["fmt"],
              labelAngle=270, labelAlign="center", labelBaseline="bottom", labelPadding=3)
    if "ytitle" in p:
        ya.update(title=p["ytitle"][0], titleX=p["ytitle"][1] - p["xp"][0], titleY=285,
                  titleAngle=270, titleAlign="center", titleBaseline="middle")
    else:
        ya.update(title="")

    if p["model"] == "dl":
        mark = alt.Chart(df).mark_circle(size=46, color="#B0127E", opacity=0.34)
    else:
        mark = alt.Chart(df).mark_circle(size=46, fill="#0A700A", fillOpacity=0.3,
                                         stroke="#043504", strokeOpacity=0.5, strokeWidth=0.8)
    points = mark.encode(
        x=alt.X("dft:Q", scale=sx(), axis=alt.Axis(**xa)),
        y=alt.Y("pred:Q", scale=sy(), axis=alt.Axis(**ya)),
    )

    lo = max(p["xd"][0], p["yd"][0])
    hi = min(p["xd"][1], p["yd"][1])
    diag = alt.Chart(pd.DataFrame({"d": [lo, hi]})).mark_line(
        color="black", strokeDash=[3, 2], strokeWidth=1).encode(
        x=alt.X("d:Q", scale=sx(), axis=None), y=alt.Y("d:Q", scale=sy(), axis=None))

    box = alt.Chart(pd.DataFrame({"x0": [p["xd"][0]], "x1": [p["xd"][1]],
                                  "y0": [p["yd"][0]], "y1": [p["yd"][1]]})).mark_rect(
        fill="transparent", stroke="black", strokeWidth=2).encode(
        x=alt.X("x0:Q", scale=sx(), axis=None), x2="x1:Q",
        y=alt.Y("y0:Q", scale=sy(), axis=None), y2="y1:Q")

    cx = (p["xp"][0] + p["xp"][1]) / 2
    top = p["yp"][0]
    layers = [points, diag, box]
    base, extra = PANEL_TITLES[p["title"]]
    if p["title"] == 0:
        layers.append(text_layer(base, cx, top + 31, 25))
    elif p["title"] == 3:
        layers.append(text_layer(base, cx, top + 31, 26, align="right"))
        layers.append(text_layer(extra, cx + 1, top + 33, 18, align="left"))
    else:
        layers.append(text_layer(base, cx + 5, top + 31, 25, align="right"))
        layers.append(text_layer(extra, cx + 6, top + 20, 17, align="left"))
    layers.append(text_layer(p["mae"], p["xp"][1] - 11, p["yp"][1] - 10, 16.5, align="right"))
    return layers


all_layers = []
for p in PANELS:
    all_layers.extend(make_panel(p))

frame_df = pd.DataFrame({"k": [0]})
frame_top = alt.Chart(frame_df).mark_rule(color="#9A9A9A", strokeWidth=1).encode(
    x=alt.value(3), x2=alt.value(W), y=alt.value(11))
frame_left = alt.Chart(frame_df).mark_rule(color="#BBBBBB", strokeWidth=1).encode(
    x=alt.value(3), y=alt.value(11), y2=alt.value(H))

annotations = [
    frame_top, frame_left,
    text_layer("(a)", 35, 60, 27, align="left"),
    text_layer("(b)", 612, 60, 27, align="left"),
    text_layer(CAPTION_BOLD, 45, 610, 20, align="left", font=SERIF, weight="bold"),
    text_layer(CAPTION_1, 127, 610, 20, align="left", font=SERIF),
    text_layer(CAPTION_2, 45, 634, 20, align="left", font=SERIF),
]

chart = alt.layer(*all_layers, *annotations).resolve_scale(
    x="independent", y="independent"
).properties(
    width=W, height=H, padding=0, background="white",
    autosize=alt.AutoSizeParams(type="none"),
).configure_view(strokeWidth=0)

chart.save("out.html", embed_options={"renderer": "svg", "actions": False})
